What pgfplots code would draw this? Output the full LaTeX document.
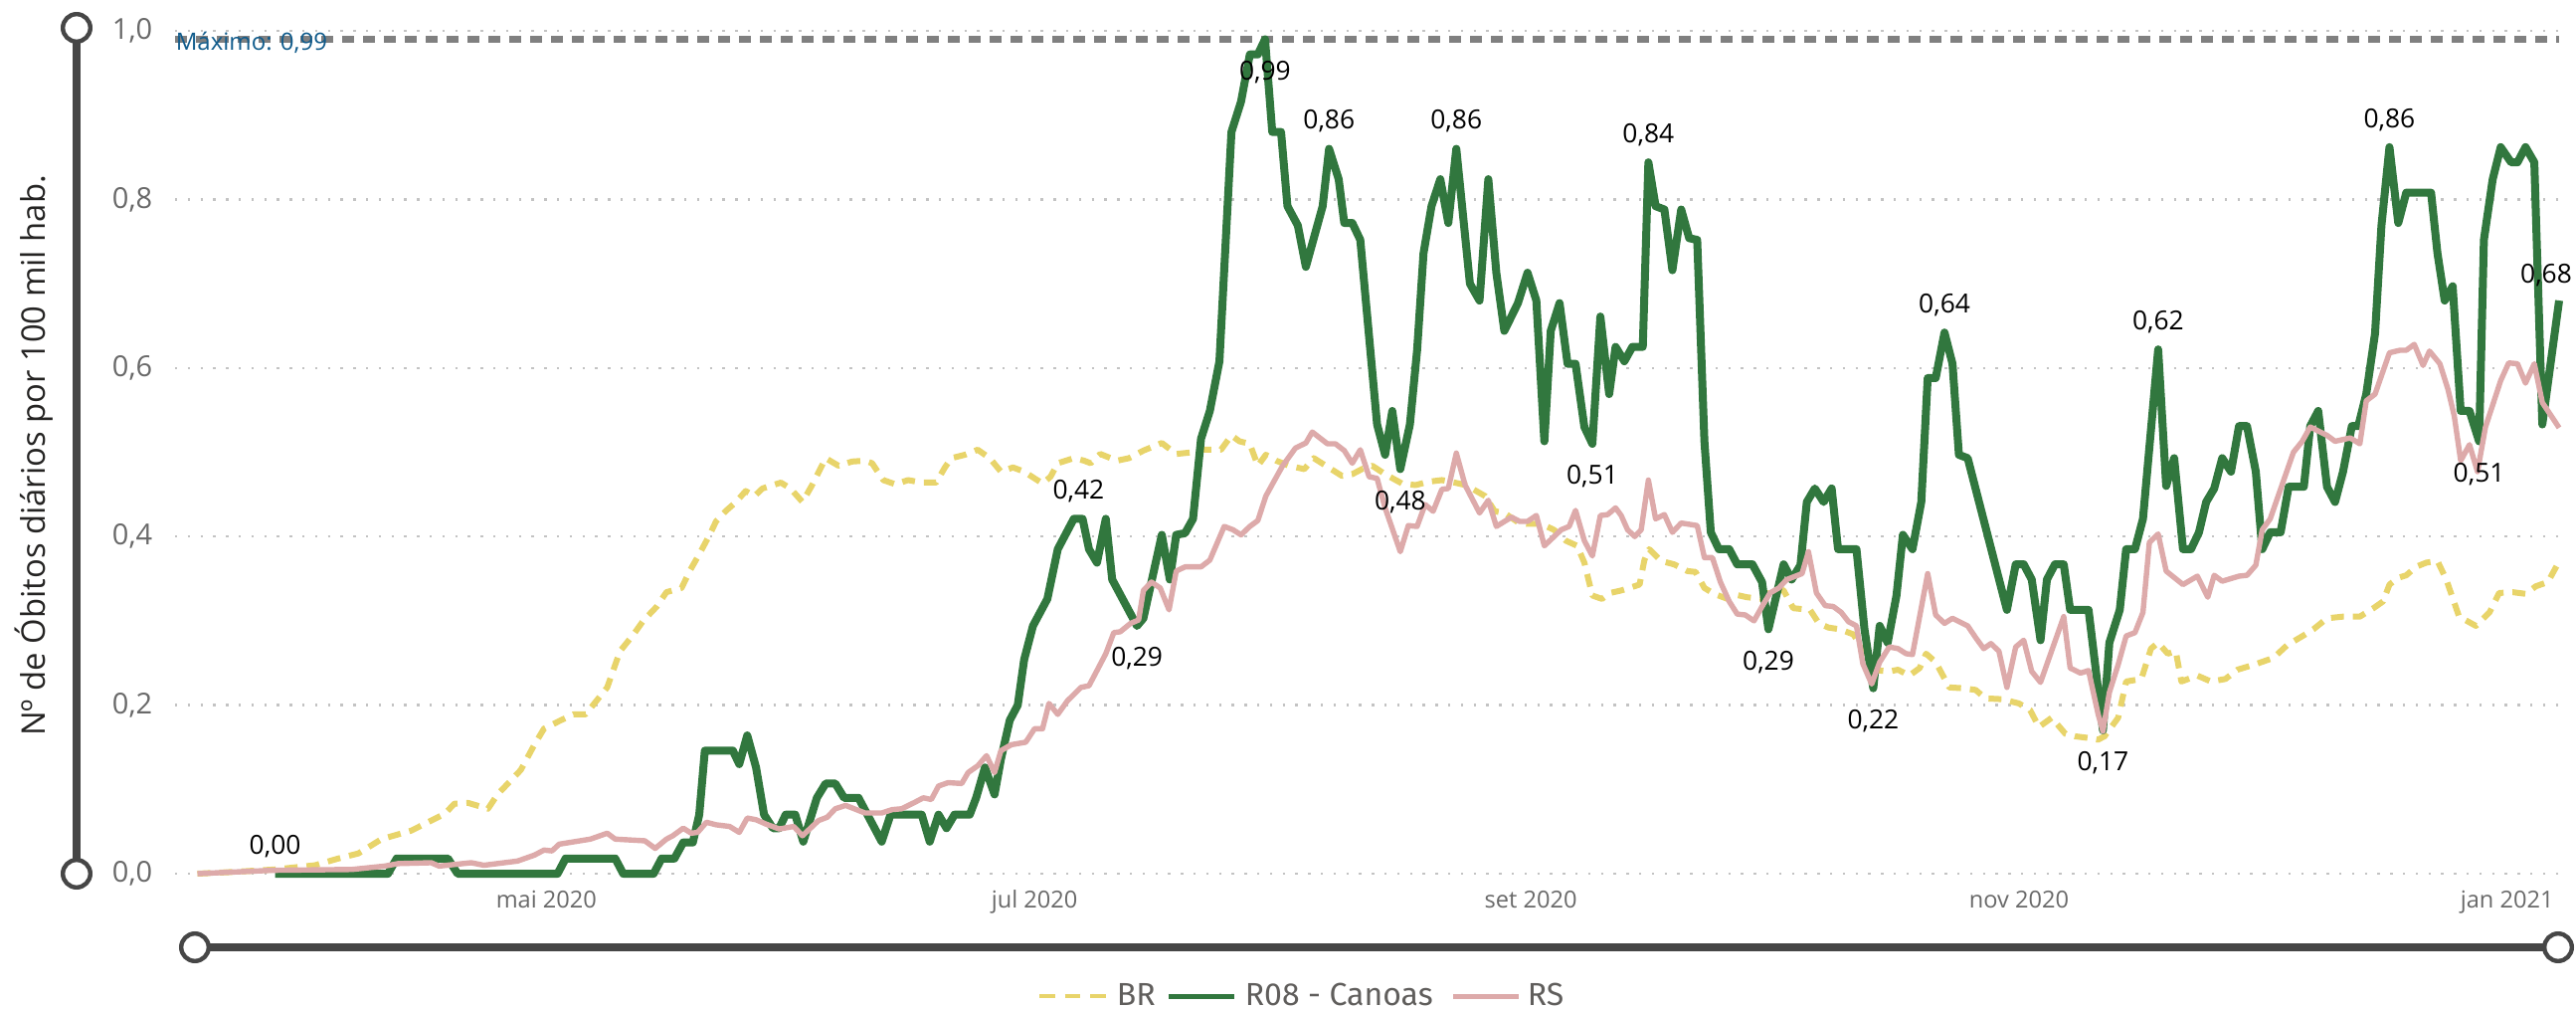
\documentclass[border=0pt]{standalone}
\usepackage{fontspec}
\setmainfont{Open Sans}
\newfontfamily\legfont{Fira Sans}
\usepackage{pgfplots}
\usepackage{pgfplotstable}
\pgfplotsset{compat=1.18}

\definecolor{brcol}{RGB}{232,212,106}
\definecolor{r08col}{RGB}{49,119,62}
\definecolor{rscol}{RGB}{221,170,170}
\definecolor{decocol}{RGB}{70,70,70}
\definecolor{tickcol}{RGB}{105,105,105}
\definecolor{legcol}{RGB}{96,94,92}
\definecolor{titlecol}{RGB}{37,36,35}
\definecolor{maxcol}{RGB}{17,92,140}
\definecolor{gridcol}{RGB}{195,195,195}
\definecolor{maxline}{RGB}{128,128,128}

\newcommand{\fs}[1]{\fontsize{#1pt}{#1pt}\selectfont}

% d = days since 18 mar 2020, v = obitos diarios por 100 mil hab.
\pgfplotstableread{
d v
0.4 0
4.8 0.002
10.1 0.005
15.1 0.01
18.0 0.018
20.5 0.024
23.4 0.041
27.1 0.051
31.3 0.071
32.5 0.083
34.2 0.084
36.7 0.077
37.9 0.094
40.8 0.123
42.5 0.153
43.7 0.172
45.8 0.182
47.4 0.189
48.9 0.189
51.6 0.221
53.2 0.264
54.9 0.284
56.1 0.3
57.8 0.317
59.0 0.334
60.9 0.339
61.9 0.359
63.1 0.379
64.4 0.402
65.2 0.418
66.5 0.431
67.7 0.441
68.9 0.454
70.0 0.448
71.0 0.457
73.3 0.464
74.5 0.457
76.0 0.441
77.2 0.461
78.9 0.493
80.5 0.484
82.2 0.489
83.8 0.49
84.7 0.487
86.1 0.467
87.6 0.462
89.2 0.467
90.9 0.464
92.7 0.464
93.8 0.482
94.6 0.493
96.3 0.497
97.9 0.503
99.4 0.493
100.8 0.477
102.3 0.482
103.7 0.477
105.0 0.469
106.0 0.463
107.0 0.471
107.9 0.487
109.9 0.493
111.2 0.49
112.0 0.487
113.2 0.498
115.3 0.49
116.8 0.493
118.6 0.502
120.9 0.511
122.7 0.498
124.8 0.5
126.1 0.503
128.3 0.503
129.6 0.52
130.6 0.513
131.9 0.51
132.9 0.484
133.9 0.497
135.2 0.49
136.8 0.484
138.7 0.48
139.9 0.493
141.4 0.484
143.4 0.472
144.7 0.474
145.9 0.48
147.2 0.484
148.8 0.474
150.9 0.463
152.6 0.461
154.2 0.465
155.9 0.467
157.5 0.464
158.9 0.461
161.3 0.448
162.5 0.43
163.7 0.428
165.4 0.417
166.6 0.415
168.3 0.415
169.9 0.408
171.4 0.395
172.8 0.389
173.7 0.369
174.7 0.33
175.9 0.326
176.9 0.333
178.3 0.336
179.3 0.339
180.6 0.343
181.2 0.372
181.8 0.385
183.3 0.371
184.9 0.367
186.6 0.359
187.6 0.358
188.7 0.339
189.9 0.332
191.6 0.326
192.6 0.331
194.0 0.328
195.9 0.326
197.6 0.339
198.6 0.336
199.8 0.315
201.9 0.313
203.0 0.297
204.2 0.292
205.6 0.29
207.3 0.284
208.5 0.267
210.6 0.241
211.8 0.24
212.9 0.242
214.3 0.235
215.6 0.244
216.4 0.261
217.6 0.251
219.3 0.221
221.0 0.22
222.6 0.218
223.8 0.208
225.9 0.207
228.0 0.202
229.4 0.194
230.5 0.174
232.1 0.185
233.8 0.166
235.0 0.163
236.7 0.161
237.9 0.159
238.7 0.163
240.4 0.185
241.4 0.228
243.3 0.231
244.5 0.267
245.4 0.274
246.6 0.261
247.6 0.264
248.3 0.228
250.3 0.235
252.0 0.228
253.8 0.231
255.3 0.242
257.4 0.248
259.8 0.256
261.5 0.271
263.8 0.284
264.8 0.29
266.5 0.303
268.5 0.305
270.6 0.305
272.3 0.315
273.5 0.323
274.3 0.343
275.4 0.351
276.4 0.354
277.6 0.364
278.9 0.369
280.3 0.371
281.4 0.349
283.0 0.305
285.1 0.294
286.8 0.31
288.0 0.333
289.7 0.334
291.3 0.332
292.6 0.341
294.1 0.346
295.3 0.367
}\brtab

\pgfplotstableread{
d v
10.1 0
24.2 0
25.3 0.018
31.7 0.018
32.9 0
45.4 0
46.4 0.018
52.6 0.018
53.6 0
57.4 0
58.4 0.018
60.0 0.018
61.1 0.037
62.3 0.037
63.1 0.07
63.8 0.146
67.3 0.146
68.1 0.13
69.1 0.164
70.2 0.126
71.2 0.07
72.3 0.054
73.1 0.054
73.9 0.07
75.1 0.07
76.1 0.038
77.8 0.09
78.9 0.107
80.1 0.107
81.2 0.09
83.0 0.09
85.9 0.038
87.0 0.07
90.9 0.07
91.9 0.038
93.0 0.07
94.0 0.054
95.0 0.07
96.9 0.07
97.7 0.09
98.8 0.126
100.0 0.094
100.8 0.136
101.9 0.182
102.9 0.2
103.7 0.254
104.8 0.294
106.6 0.326
107.9 0.385
109.9 0.421
111.0 0.421
111.8 0.385
112.8 0.369
113.9 0.421
114.7 0.349
117.8 0.294
118.6 0.303
120.9 0.402
121.9 0.349
122.7 0.402
123.8 0.404
124.8 0.421
125.8 0.516
126.9 0.549
128.1 0.608
129.6 0.88
130.8 0.916
131.9 0.972
132.9 0.972
133.8 0.99
134.7 0.88
135.8 0.88
136.6 0.792
137.9 0.769
138.9 0.72
141.0 0.792
141.8 0.86
143.0 0.824
143.7 0.772
144.7 0.772
145.7 0.752
147.8 0.533
148.8 0.497
149.7 0.549
150.7 0.48
151.9 0.533
152.8 0.621
153.6 0.736
154.6 0.792
155.7 0.824
156.7 0.772
157.7 0.86
159.4 0.70
160.6 0.68
161.7 0.824
162.7 0.713
163.7 0.644
165.4 0.677
166.6 0.713
167.7 0.68
168.7 0.513
169.5 0.644
170.6 0.677
171.6 0.605
172.6 0.605
173.7 0.53
174.7 0.51
175.7 0.661
176.8 0.569
177.6 0.625
178.7 0.608
179.7 0.625
181.0 0.625
181.7 0.844
182.6 0.792
183.7 0.788
184.7 0.716
185.8 0.788
186.8 0.754
187.8 0.752
188.7 0.513
189.5 0.405
190.5 0.385
191.8 0.385
192.8 0.367
194.7 0.367
195.9 0.346
196.7 0.29
198.6 0.367
199.6 0.349
200.7 0.366
201.5 0.441
202.5 0.457
203.6 0.441
204.6 0.457
205.4 0.385
207.7 0.385
208.7 0.29
209.8 0.22
210.6 0.294
211.6 0.274
212.7 0.33
213.5 0.402
214.7 0.385
215.8 0.441
216.6 0.588
217.6 0.588
218.7 0.642
219.7 0.605
220.5 0.497
221.6 0.493
226.5 0.313
227.6 0.367
228.6 0.367
229.6 0.349
230.7 0.277
231.5 0.349
232.5 0.367
233.6 0.367
234.4 0.313
236.7 0.313
237.5 0.25
238.5 0.17
239.3 0.274
240.6 0.313
241.4 0.385
242.5 0.385
243.5 0.421
245.4 0.622
246.4 0.46
247.4 0.493
248.5 0.385
249.5 0.385
250.5 0.405
251.4 0.441
252.4 0.457
253.4 0.493
254.5 0.477
255.5 0.531
256.5 0.531
257.6 0.477
258.4 0.385
259.4 0.405
260.7 0.405
261.7 0.459
263.6 0.459
264.4 0.531
265.4 0.549
266.5 0.459
267.5 0.441
268.5 0.477
269.6 0.531
270.4 0.531
271.4 0.569
272.5 0.641
273.3 0.769
274.3 0.862
275.4 0.772
276.4 0.808
279.5 0.808
280.3 0.736
281.2 0.68
282.2 0.697
283.2 0.549
284.3 0.549
285.5 0.513
286.1 0.752
287.2 0.824
288.2 0.862
289.5 0.844
290.3 0.844
291.3 0.862
292.4 0.844
293.4 0.533
295.5 0.68
}\rtab

\pgfplotstableread{
d v
0.4 0
9.7 0.004
19.7 0.005
23.8 0.009
25.5 0.012
29.6 0.013
30.6 0.009
34.6 0.013
36.2 0.01
40.4 0.015
42.5 0.022
43.7 0.028
44.7 0.027
45.6 0.035
49.5 0.041
51.6 0.048
52.6 0.041
56.3 0.039
57.6 0.03
59.0 0.041
59.8 0.045
61.1 0.054
62.1 0.048
62.9 0.049
64.0 0.061
65.2 0.058
66.9 0.056
68.1 0.049
69.1 0.066
70.2 0.064
71.4 0.059
73.1 0.053
74.9 0.056
76.0 0.045
78.0 0.063
79.1 0.067
80.1 0.077
81.4 0.081
83.8 0.072
85.9 0.072
87.2 0.076
88.4 0.077
90.1 0.085
91.1 0.09
92.1 0.088
93.0 0.104
94.2 0.108
95.9 0.107
96.7 0.12
97.9 0.128
99.0 0.14
100.0 0.12
100.8 0.146
102.1 0.153
103.9 0.156
105.0 0.172
106.0 0.172
106.8 0.202
107.9 0.189
109.1 0.205
110.8 0.221
111.8 0.223
112.8 0.241
113.9 0.261
114.9 0.286
115.7 0.287
117.0 0.297
118.0 0.301
118.6 0.336
119.6 0.346
120.7 0.339
121.8 0.313
122.7 0.359
123.8 0.364
125.8 0.364
126.9 0.372
128.7 0.412
129.8 0.408
130.8 0.402
131.9 0.412
132.9 0.419
133.9 0.448
135.0 0.467
136.0 0.484
137.6 0.505
138.9 0.511
139.7 0.524
141.6 0.51
142.6 0.51
143.7 0.502
144.7 0.487
145.7 0.503
146.8 0.471
147.8 0.469
148.8 0.434
150.7 0.382
151.7 0.413
152.8 0.412
153.8 0.438
154.8 0.43
155.9 0.456
156.7 0.457
157.7 0.499
158.8 0.461
160.6 0.428
161.7 0.443
162.7 0.412
164.6 0.423
165.6 0.418
166.6 0.418
167.7 0.425
168.7 0.389
169.7 0.398
170.8 0.408
171.8 0.412
172.6 0.431
173.7 0.395
174.7 0.377
175.7 0.425
176.6 0.426
177.6 0.434
178.3 0.425
179.1 0.408
180.0 0.4
180.8 0.408
181.7 0.467
182.6 0.421
183.7 0.426
184.7 0.405
185.8 0.416
187.8 0.413
188.7 0.375
189.7 0.375
190.7 0.346
191.8 0.323
192.8 0.308
193.8 0.307
194.9 0.3
195.9 0.317
196.9 0.333
198.0 0.339
199.0 0.349
200.9 0.356
201.7 0.382
202.7 0.333
203.8 0.318
204.8 0.317
205.8 0.31
206.7 0.299
207.7 0.294
208.5 0.249
209.6 0.225
210.6 0.251
211.8 0.269
212.9 0.267
213.9 0.261
214.7 0.26
216.6 0.356
217.6 0.307
218.7 0.297
219.7 0.303
221.6 0.294
222.6 0.28
223.6 0.267
224.5 0.273
225.5 0.264
226.5 0.221
227.6 0.269
228.6 0.277
229.6 0.24
230.7 0.227
231.7 0.254
233.6 0.305
234.4 0.244
235.7 0.238
236.7 0.241
237.9 0.189
238.5 0.169
239.3 0.215
240.4 0.248
241.4 0.282
242.5 0.286
243.5 0.31
244.3 0.393
245.4 0.403
246.4 0.359
248.5 0.343
250.3 0.353
251.6 0.328
252.4 0.354
253.4 0.347
255.5 0.353
256.5 0.354
257.6 0.366
258.4 0.408
259.4 0.421
260.5 0.451
262.3 0.5
263.4 0.513
264.4 0.53
266.5 0.52
267.5 0.513
269.4 0.517
270.6 0.51
271.4 0.561
272.5 0.569
274.3 0.618
275.6 0.621
276.4 0.621
277.4 0.628
278.5 0.603
279.3 0.62
280.6 0.605
281.6 0.575
282.4 0.543
283.2 0.49
284.3 0.509
285.3 0.477
286.3 0.53
288.2 0.585
289.2 0.606
290.3 0.605
291.3 0.582
292.4 0.605
293.4 0.559
295.5 0.529
}\rstab

% value labels of the R08 series
\pgfplotstableread{
d v lab
10.1 0 0,00
110.5 0.421 0,42
141.8 0.86 0,86
157.7 0.86 0,86
181.7 0.844 0,84
218.7 0.642 0,64
245.4 0.622 0,62
274.3 0.862 0,86
}\uplab
\pgfplotstableread{
d v lab
117.8 0.294 0,29
133.8 0.99 0,99
150.7 0.48 0,48
174.7 0.51 0,51
196.7 0.29 0,29
209.8 0.22 0,22
238.5 0.17 0,17
285.5 0.513 0,51
}\downlab

\begin{document}
\begin{tikzpicture}[x=0.25pt,y=-0.25pt]
\useasboundingbox (0,0) rectangle (2590,1014);

% y axis decoration
\draw[decocol, line width=1.9pt] (77,28) -- (77,878);
\draw[decocol, line width=1.1pt, fill=white] (77,28) circle[radius=3.45pt];
\draw[decocol, line width=1.1pt, fill=white] (77,878) circle[radius=3.45pt];
% x axis decoration
\draw[decocol, line width=2pt] (196,952) -- (2572,952);
\draw[decocol, line width=1.1pt, fill=white] (196,952) circle[radius=3.45pt];
\draw[decocol, line width=1.1pt, fill=white] (2572,952) circle[radius=3.45pt];

\node[rotate=90, anchor=base, font=\fs{8.2}, text=titlecol, inner sep=0pt]
  at (45,458) {Nº de Óbitos diários por 100 mil hab.};

\begin{axis}[
  at={(44pt,-219.5pt)}, anchor=south west,
  scale only axis, width=599.25pt, height=211.75pt,
  xmin=-2.4, xmax=295.5, ymin=0, ymax=1,
  clip=false,
  axis line style={draw=none},
  major tick length=0pt,
  xtick={44,105,167,228,289},
  xticklabels={mai 2020,jul 2020,set 2020,nov 2020,jan 2021},
  xticklabel style={font=\fs{5.9}, text=tickcol, anchor=base, inner sep=0pt, yshift=-8.5pt},
  ytick={0,0.2,0.4,0.6,0.8,1},
  yticklabels={{0,0},{0,2},{0,4},{0,6},{0,8},{1,0}},
  yticklabel style={font=\fs{7.25}, text=tickcol, anchor=east, inner sep=0pt, xshift=-5.5pt},
  ymajorgrids,
  grid style={gridcol, line width=0.6pt, dash pattern=on 0.6pt off 2.6pt},
  line join=round,
]
\addplot[maxline, line width=1.75pt, dash pattern=on 3pt off 2.25pt] coordinates {(-2.4,0.99) (295.5,0.99)};

\addplot[brcol, line width=1.5pt, dash pattern=on 3.25pt off 2.25pt] table[x=d,y=v] {\brtab};
\addplot[r08col, line width=2pt] table[x=d,y=v] {\rtab};
\addplot[rscol, line width=1.35pt] table[x=d,y=v] {\rstab};

\addplot[draw=none, mark=none, nodes near coords, point meta=explicit symbolic,
  nodes near coords style={font=\fs{6.6}, text=black, anchor=center, inner sep=0pt, yshift=6.9pt}]
  table[x=d,y=v,meta=lab] {\uplab};
\addplot[draw=none, mark=none, nodes near coords, point meta=explicit symbolic,
  nodes near coords style={font=\fs{6.6}, text=black, anchor=center, inner sep=0pt, yshift=-8.25pt}]
  table[x=d,y=v,meta=lab] {\downlab};
\addplot[draw=none, mark=none, nodes near coords, point meta=explicit symbolic,
  nodes near coords style={font=\fs{6.6}, text=black, anchor=center, inner sep=0pt, yshift=6.4pt, xshift=-3.25pt}]
  table[x=d,y=v,meta=lab] {
d v lab
295.5 0.68 0,68
};

\node[anchor=west, inner sep=0pt, yshift=-0.875pt, font=\fs{6}, text=maxcol] at (axis cs:-2.4,0.99) {Máximo: 0,99};
\end{axis}

% legend
\draw[brcol, line width=1.2pt, dash pattern=on 3.9pt off 2.5pt] (1045,1001) -- (1112,1001);
\node[anchor=base west, inner sep=0pt, font=\legfont\fs{8}, text=legcol] at (1122,1010) {BR};
\draw[r08col, line width=1.25pt] (1175,1001) -- (1241,1001);
\node[anchor=base west, inner sep=0pt, font=\legfont\fs{8}, text=legcol] at (1251,1010) {R08 - Canoas};
\draw[rscol, line width=1.25pt] (1461,1001) -- (1527,1001);
\node[anchor=base west, inner sep=0pt, font=\legfont\fs{8}, text=legcol] at (1535,1010) {RS};
\end{tikzpicture}
\end{document}
